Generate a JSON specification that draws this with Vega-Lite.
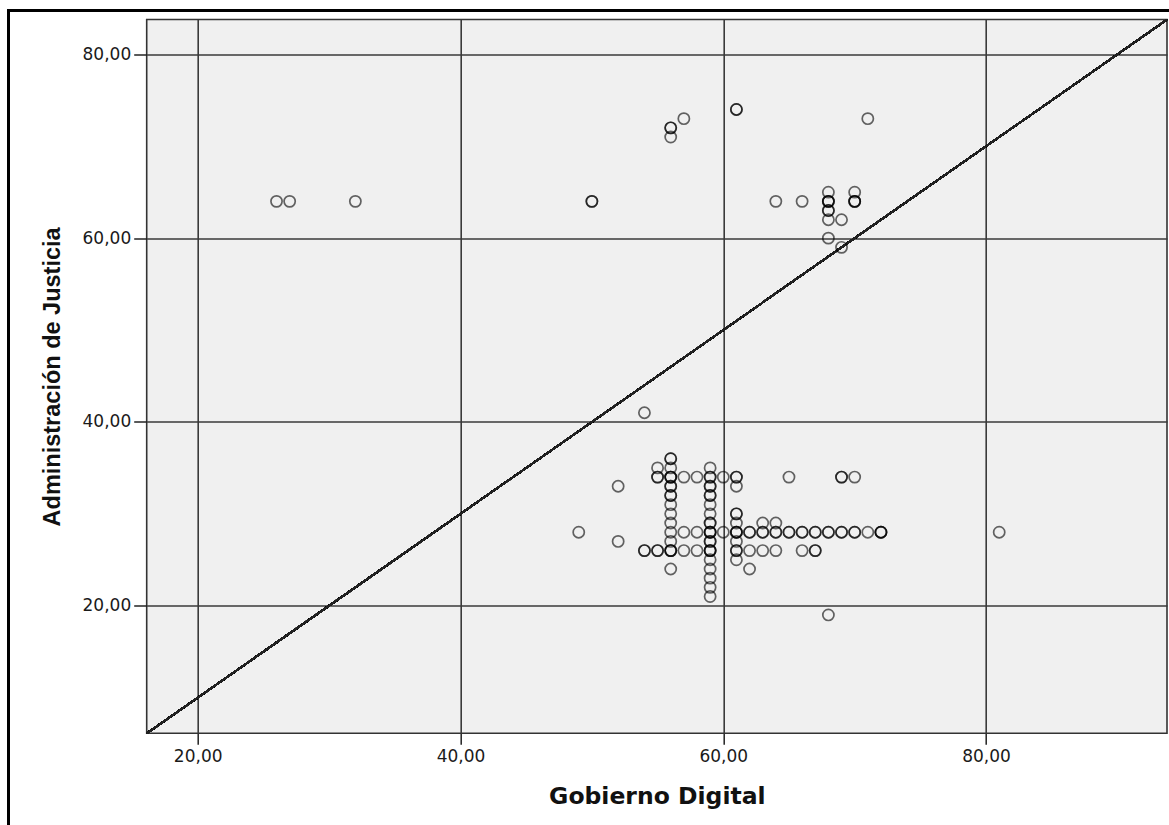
{
  "$schema": "https://vega.github.io/schema/vega-lite/v6.json",
  "autosize": "none",
  "width": 1020.3,
  "height": 713.8,
  "padding": {"left": 146.7, "top": 19.5, "right": 2, "bottom": 91.7},
  "background": "white",
  "config": {
    "view": {"fill": "#f0f0f0", "stroke": "#333333", "strokeWidth": 1.6},
    "axis": {
      "domain": false,
      "grid": true,
      "gridColor": "#3a3a3a",
      "gridWidth": 1.6,
      "tickColor": "#222222",
      "tickWidth": 1.5,
      "labelFont": "DejaVu Sans",
      "labelFontSize": 17,
      "labelColor": "#1a1a1a",
      "titleColor": "#111111",
      "titleFontWeight": "bold"
    }
  },
  "datasets": {
    "points": [
      {"gd": 26, "aj": 64}, {"gd": 27, "aj": 64}, {"gd": 32, "aj": 64}, {"gd": 50, "aj": 64}, {"gd": 50, "aj": 64},
      {"gd": 56, "aj": 72}, {"gd": 56, "aj": 72}, {"gd": 56, "aj": 71}, {"gd": 57, "aj": 73}, {"gd": 61, "aj": 74}, {"gd": 61, "aj": 74},
      {"gd": 71, "aj": 73}, {"gd": 64, "aj": 64}, {"gd": 66, "aj": 64},
      {"gd": 68, "aj": 65}, {"gd": 68, "aj": 64}, {"gd": 68, "aj": 64}, {"gd": 68, "aj": 64}, {"gd": 68, "aj": 63}, {"gd": 68, "aj": 63}, {"gd": 68, "aj": 62}, {"gd": 68, "aj": 60},
      {"gd": 69, "aj": 62}, {"gd": 69, "aj": 59},
      {"gd": 70, "aj": 65}, {"gd": 70, "aj": 64}, {"gd": 70, "aj": 64}, {"gd": 70, "aj": 64},
      {"gd": 54, "aj": 41}, {"gd": 52, "aj": 33}, {"gd": 49, "aj": 28}, {"gd": 52, "aj": 27}, {"gd": 81, "aj": 28}, {"gd": 68, "aj": 19},
      {"gd": 56, "aj": 36}, {"gd": 56, "aj": 36}, {"gd": 56, "aj": 35}, {"gd": 56, "aj": 34}, {"gd": 56, "aj": 34}, {"gd": 56, "aj": 34},
      {"gd": 56, "aj": 33}, {"gd": 56, "aj": 33}, {"gd": 56, "aj": 32}, {"gd": 56, "aj": 32}, {"gd": 56, "aj": 31}, {"gd": 56, "aj": 30},
      {"gd": 56, "aj": 29}, {"gd": 56, "aj": 28}, {"gd": 56, "aj": 27}, {"gd": 56, "aj": 26}, {"gd": 56, "aj": 26}, {"gd": 56, "aj": 26}, {"gd": 56, "aj": 24},
      {"gd": 55, "aj": 35}, {"gd": 55, "aj": 34}, {"gd": 55, "aj": 34}, {"gd": 55, "aj": 26}, {"gd": 55, "aj": 26},
      {"gd": 54, "aj": 26}, {"gd": 54, "aj": 26},
      {"gd": 57, "aj": 34}, {"gd": 57, "aj": 28}, {"gd": 57, "aj": 26},
      {"gd": 58, "aj": 34}, {"gd": 58, "aj": 28}, {"gd": 58, "aj": 26},
      {"gd": 59, "aj": 35}, {"gd": 59, "aj": 34}, {"gd": 59, "aj": 34}, {"gd": 59, "aj": 33}, {"gd": 59, "aj": 33}, {"gd": 59, "aj": 32},
      {"gd": 59, "aj": 32}, {"gd": 59, "aj": 31}, {"gd": 59, "aj": 30}, {"gd": 59, "aj": 29}, {"gd": 59, "aj": 29}, {"gd": 59, "aj": 28},
      {"gd": 59, "aj": 28}, {"gd": 59, "aj": 28}, {"gd": 59, "aj": 27}, {"gd": 59, "aj": 27}, {"gd": 59, "aj": 26}, {"gd": 59, "aj": 26},
      {"gd": 59, "aj": 26}, {"gd": 59, "aj": 25}, {"gd": 59, "aj": 24}, {"gd": 59, "aj": 23}, {"gd": 59, "aj": 22}, {"gd": 59, "aj": 21},
      {"gd": 60, "aj": 34}, {"gd": 60, "aj": 28},
      {"gd": 61, "aj": 34}, {"gd": 61, "aj": 34}, {"gd": 61, "aj": 33}, {"gd": 61, "aj": 30}, {"gd": 61, "aj": 30}, {"gd": 61, "aj": 29},
      {"gd": 61, "aj": 28}, {"gd": 61, "aj": 28}, {"gd": 61, "aj": 28}, {"gd": 61, "aj": 27}, {"gd": 61, "aj": 26}, {"gd": 61, "aj": 26}, {"gd": 61, "aj": 25},
      {"gd": 62, "aj": 28}, {"gd": 62, "aj": 28}, {"gd": 62, "aj": 26}, {"gd": 62, "aj": 24},
      {"gd": 63, "aj": 29}, {"gd": 63, "aj": 28}, {"gd": 63, "aj": 28}, {"gd": 63, "aj": 26},
      {"gd": 64, "aj": 29}, {"gd": 64, "aj": 28}, {"gd": 64, "aj": 28}, {"gd": 64, "aj": 26},
      {"gd": 65, "aj": 34}, {"gd": 65, "aj": 28}, {"gd": 65, "aj": 28},
      {"gd": 66, "aj": 28}, {"gd": 66, "aj": 28}, {"gd": 66, "aj": 26},
      {"gd": 67, "aj": 28}, {"gd": 67, "aj": 28}, {"gd": 67, "aj": 26}, {"gd": 67, "aj": 26},
      {"gd": 68, "aj": 28}, {"gd": 68, "aj": 28},
      {"gd": 69, "aj": 34}, {"gd": 69, "aj": 34}, {"gd": 69, "aj": 28}, {"gd": 69, "aj": 28},
      {"gd": 70, "aj": 34}, {"gd": 70, "aj": 28}, {"gd": 70, "aj": 28},
      {"gd": 71, "aj": 28},
      {"gd": 72, "aj": 28}, {"gd": 72, "aj": 28}, {"gd": 72, "aj": 28}
    ]
  },
  "data": {"name": "points"},
  "encoding": {
    "x": {
      "field": "gd", "type": "quantitative",
      "scale": {"domain": [16.12, 93.77], "nice": false, "zero": false},
      "axis": {
        "values": [20, 40, 60, 80],
        "labelExpr": "replace(format(datum.value, '.2f'), '.', ',')",
        "tickSize": 11,
        "labelPadding": 4,
        "title": "Gobierno Digital",
        "titleFont": "DejaVu Sans",
        "titleFontSize": 23.5,
        "titleBaseline": "alphabetic",
        "titleY": 70
      }
    },
    "y": {
      "field": "aj", "type": "quantitative",
      "scale": {"domain": [6.12, 83.79], "nice": false, "zero": false},
      "axis": {
        "values": [20, 40, 60, 80],
        "labelExpr": "replace(format(datum.value, '.2f'), '.', ',')",
        "tickSize": 13,
        "labelPadding": 3,
        "title": "Administración de Justicia",
        "titleFont": "Liberation Sans",
        "titleFontSize": 23.5,
        "titleBaseline": "alphabetic",
        "titleAngle": -90,
        "titleX": -87
      }
    }
  },
  "layer": [
    {
      "mark": {"type": "rect", "fill": null, "stroke": "#000000", "strokeWidth": 2, "clip": false},
      "encoding": {
        "x": {"datum": 5.62},
        "x2": {"datum": 94.3},
        "y": {"datum": 84.75},
        "y2": {"datum": -5}
      }
    },
    {
      "mark": {"type": "rule", "color": "#222222", "strokeWidth": 1.5},
      "encoding": {
        "x": {"datum": 16.12},
        "y": {"datum": 6.12},
        "x2": {"datum": 93.77},
        "y2": {"datum": 83.77}
      }
    },
    {
      "mark": {"type": "point", "shape": "circle", "filled": false, "size": 125, "stroke": "#000000", "strokeWidth": 1.7, "strokeOpacity": 0.85}
    }
  ]
}
